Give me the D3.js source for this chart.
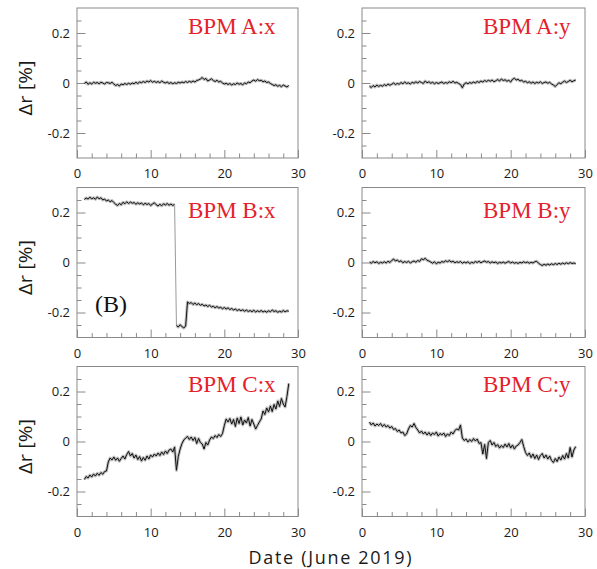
<!DOCTYPE html>
<html>
<head>
<meta charset="utf-8">
<script src="https://cdn.jsdelivr.net/npm/d3@7"></script>
<style>
  html, body { margin: 0; padding: 0; background: #fff; }
  svg { display: block; }
</style>
</head>
<body>
<svg id="chart" width="597" height="569"></svg>
<script>
// ---------------- DATA ----------------
const days = [
  1, 1.25, 1.5, 1.75, 2, 2.25, 2.5, 2.75,
  3, 3.25, 3.5, 3.75, 4, 4.25, 4.5, 4.75,
  5, 5.25, 5.5, 5.75, 6, 6.25, 6.5, 6.75,
  7, 7.25, 7.5, 7.75, 8, 8.25, 8.5, 8.75,
  9, 9.25, 9.5, 9.75, 10, 10.25, 10.5, 10.75,
  11, 11.25, 11.5, 11.75, 12, 12.25, 12.5, 12.75,
  13, 13.25, 13.5, 13.75, 14, 14.25, 14.5, 14.75,
  15, 15.25, 15.5, 15.75, 16, 16.25, 16.5, 16.75,
  17, 17.25, 17.5, 17.75, 18, 18.25, 18.5, 18.75,
  19, 19.25, 19.5, 19.75, 20, 20.25, 20.5, 20.75,
  21, 21.25, 21.5, 21.75, 22, 22.25, 22.5, 22.75,
  23, 23.25, 23.5, 23.75, 24, 24.25, 24.5, 24.75,
  25, 25.25, 25.5, 25.75, 26, 26.25, 26.5, 26.75,
  27, 27.25, 27.5, 27.75, 28, 28.25, 28.5, 28.75
];

const bpmAx = [
  -0.002, 0.004, -0.005, 0.001, -0.004, 0.003, -0.001, 0.002,
  -0.003, 0.003, 0.000, -0.004, 0.002, 0.001, -0.002, 0.003,
  -0.004, -0.010, -0.006, -0.012, -0.004, -0.007, -0.002, -0.006,
  -0.001, -0.005, 0.000, -0.003, 0.003, -0.002, 0.004, 0.001,
  0.006, 0.002, 0.008, 0.004, 0.010, 0.003, 0.007, 0.002,
  0.006, 0.001, 0.008, 0.003, 0.000, 0.004, -0.002, 0.002,
  -0.003, 0.001, -0.002, 0.003, 0.000, 0.004, 0.001, 0.006,
  0.002, 0.007, 0.003, 0.008, 0.004, 0.010, 0.012, 0.016,
  0.022, 0.014, 0.018, 0.008, 0.012, 0.017, 0.010, 0.006,
  0.011, 0.004, 0.007, 0.000, -0.004, -0.001, -0.006, -0.002,
  -0.008, -0.003, -0.006, 0.000, -0.005, -0.002, -0.007, 0.000,
  -0.003, 0.004, 0.001, 0.008, 0.012, 0.007, 0.014, 0.009,
  0.011, 0.005, 0.008, 0.002, 0.004, -0.002, -0.006, -0.010,
  -0.007, -0.013, -0.009, -0.015, -0.008, -0.012, -0.016, -0.010
];

const bpmAy = [
  -0.012, -0.018, -0.010, -0.016, -0.008, -0.014, -0.009, -0.013,
  -0.006, -0.011, -0.004, -0.009, -0.005, 0.000, -0.006, -0.002,
  -0.005, 0.002, -0.003, 0.004, -0.002, 0.001, -0.004, 0.003,
  -0.001, 0.005, 0.000, 0.006, 0.002, -0.002, 0.008, 0.001,
  0.005, -0.001, 0.003, -0.003, 0.002, -0.002, 0.001, 0.004,
  -0.002, 0.002, -0.001, 0.005, 0.001, 0.007, 0.000, 0.003,
  -0.002, -0.006, -0.019, -0.004, 0.001, -0.003, 0.002, -0.001,
  0.004, 0.000, 0.006, 0.002, 0.008, 0.004, 0.010, 0.006,
  0.011, 0.007, 0.012, 0.005, 0.009, 0.014, 0.008, 0.016,
  0.010, 0.013, 0.007, 0.011, 0.004, 0.015, 0.019, 0.012,
  0.015, 0.008, 0.011, 0.004, 0.007, 0.001, 0.005, -0.001,
  0.004, -0.002, 0.003, 0.000, 0.005, -0.002, 0.002, 0.004,
  -0.001, 0.003, -0.004, -0.008, -0.014, -0.006, 0.001, -0.003,
  0.003, 0.008, 0.002, 0.006, 0.011, 0.005, 0.009, 0.012
];

const bpmBx = [
  0.252, 0.258, 0.254, 0.261, 0.255, 0.259, 0.253, 0.262,
  0.255, 0.259, 0.250, 0.254, 0.246, 0.250, 0.243, 0.248,
  0.240, 0.233, 0.228, 0.236, 0.231, 0.241, 0.235, 0.243,
  0.236, 0.242, 0.237, 0.240, 0.233, 0.239, 0.234, 0.238,
  0.231, 0.237, 0.232, 0.236, 0.228, 0.234, 0.239, 0.231,
  0.226, 0.233, 0.227, 0.235, 0.230, 0.236, 0.229, 0.234,
  0.228, 0.233, -0.252, -0.258, -0.249, -0.256, -0.262, -0.254,
  -0.158, -0.164, -0.160, -0.168, -0.162, -0.169, -0.164, -0.171,
  -0.167, -0.174, -0.170, -0.176, -0.171, -0.178, -0.175, -0.181,
  -0.176, -0.182, -0.179, -0.185, -0.180, -0.186, -0.181, -0.188,
  -0.184, -0.190, -0.186, -0.192, -0.188, -0.193, -0.189, -0.195,
  -0.190, -0.196, -0.192, -0.197, -0.191, -0.198, -0.193, -0.197,
  -0.192, -0.198, -0.194, -0.199, -0.193, -0.197, -0.190, -0.196,
  -0.193, -0.199, -0.195, -0.198, -0.192, -0.197, -0.193, -0.195
];

const bpmBy = [
  0.002, -0.003, 0.004, -0.001, 0.003, -0.004, 0.001, -0.002,
  0.003, -0.002, 0.005, 0.000, 0.008, 0.014, 0.006, 0.010,
  0.003, 0.007, -0.001, 0.004, 0.000, 0.005, -0.002, 0.003,
  0.006, 0.001, 0.008, 0.004, 0.015, 0.011, 0.017, 0.009,
  0.006, 0.002, -0.003, 0.003, -0.005, 0.001, -0.002, 0.004,
  0.001, 0.007, 0.003, 0.008, 0.002, 0.005, -0.001, 0.003,
  0.000, 0.004, -0.003, 0.002, -0.002, 0.003, -0.004, 0.001,
  -0.002, 0.004, 0.000, 0.005, -0.001, 0.003, 0.006, 0.001,
  0.004, -0.002, 0.003, -0.001, 0.002, -0.004, 0.001, -0.002,
  0.002, -0.003, 0.001, 0.004, -0.002, 0.002, -0.003, 0.000,
  -0.004, 0.001, -0.002, 0.003, -0.001, 0.002, -0.003, 0.001,
  -0.002, 0.003, 0.005, -0.003, -0.008, -0.012, -0.007, -0.011,
  -0.006, -0.010, -0.005, -0.009, -0.004, -0.008, -0.003, -0.007,
  -0.002, -0.006, -0.001, -0.005, 0.000, -0.004, -0.002, -0.005
];

const bpmCx = [
  -0.152, -0.140, -0.146, -0.134, -0.142, -0.130, -0.138, -0.127,
  -0.135, -0.124, -0.131, -0.120, -0.118, -0.082, -0.066, -0.074,
  -0.062, -0.075, -0.066, -0.079, -0.068, -0.058, -0.070, -0.052,
  -0.040, -0.058, -0.048, -0.066, -0.054, -0.072, -0.060, -0.078,
  -0.064, -0.075, -0.058, -0.070, -0.054, -0.062, -0.050, -0.058,
  -0.046, -0.056, -0.042, -0.052, -0.038, -0.048, -0.034, -0.030,
  -0.042, -0.022, -0.115, -0.060, -0.030, -0.008, 0.006, 0.014,
  0.020, 0.008, 0.018, 0.004, 0.016, -0.008, 0.012, -0.004,
  -0.010, -0.030, -0.004, -0.014, 0.006, 0.018, 0.012, 0.024,
  0.016, 0.028, 0.020, 0.032, 0.064, 0.090, 0.078, 0.092,
  0.070, 0.088, 0.060, 0.094, 0.072, 0.098, 0.066, 0.086,
  0.074, 0.096, 0.062, 0.088, 0.070, 0.050, 0.064, 0.078,
  0.090, 0.122, 0.108, 0.134, 0.118, 0.142, 0.120, 0.148,
  0.130, 0.162, 0.140, 0.172, 0.150, 0.138, 0.180, 0.232
];

const bpmCy = [
  0.078, 0.066, 0.074, 0.062, 0.070, 0.064, 0.072, 0.060,
  0.068, 0.058, 0.064, 0.054, 0.060, 0.048, 0.052, 0.040,
  0.046, 0.034, 0.038, 0.024, 0.030, 0.050, 0.064, 0.058,
  0.072, 0.056, 0.046, 0.034, 0.042, 0.030, 0.038, 0.026,
  0.036, 0.024, 0.034, 0.028, 0.038, 0.022, 0.032, 0.026,
  0.034, 0.020, 0.030, 0.024, 0.038, 0.030, 0.044, 0.050,
  0.046, 0.066, 0.014, 0.004, 0.010, -0.002, 0.008, 0.000,
  0.012, 0.002, 0.010, -0.008, -0.004, -0.050, -0.012, -0.068,
  -0.004, 0.004, -0.014, -0.004, -0.020, -0.012, -0.026, -0.016,
  -0.024, -0.010, -0.022, -0.008, -0.026, -0.014, -0.030, -0.018,
  -0.014, -0.004, 0.008, -0.020, -0.044, -0.056, -0.046, -0.064,
  -0.050, -0.068, -0.054, -0.072, -0.056, -0.048, -0.066, -0.054,
  -0.070, -0.058, -0.076, -0.084, -0.068, -0.080, -0.062, -0.074,
  -0.056, -0.070, -0.048, -0.066, -0.024, -0.062, -0.034, -0.020
];

const panelTitles = ["BPM A:x", "BPM A:y", "BPM B:x", "BPM B:y", "BPM C:x", "BPM C:y"];
const panelSeries = [bpmAx, bpmAy, bpmBx, bpmBy, bpmCx, bpmCy];

const xMajorTicks = [0, 10, 20, 30];
const xMinorTicks = [2, 4, 6, 8, 12, 14, 16, 18, 22, 24, 26, 28];
const yMajorTicks = [-0.2, 0, 0.2];
const yMinorTicks = [-0.25, -0.15, -0.1, -0.05, 0.05, 0.1, 0.15, 0.25];

const xDomain = [0, 30];
const yDomain = [-0.3, 0.3];
const yLabel = "\u0394r [%]";
const xLabel = "Date (June 2019)";
const panelTag = "(B)";

// ---------------- LAYOUT ----------------
const svg = d3.select("#chart");
const colX = [[77, 298], [362, 585]];
const rowTop = [8, 187.5, 366.5];
const plotH = 150;
const titleX = [188, 483];
const titleBase = [33.5, 218, 392];
const frameColor = "#8a8a8a";
const sans = "'Open Sans', 'DejaVu Sans', sans-serif";
const serif = "'Liberation Serif', 'Times New Roman', serif";

panelSeries.forEach((vals, i) => {
  const col = i % 2, row = Math.floor(i / 2);
  const [x0, x1] = colX[col];
  const top = rowTop[row];
  const x = d3.scaleLinear().domain(xDomain).range([x0, x1]);
  const y = d3.scaleLinear().domain(yDomain).range([top + plotH, top]);
  const g = svg.append("g");

  // minor ticks
  g.append("g").attr("transform", `translate(0,${top + plotH})`)
    .call(d3.axisBottom(x).tickValues(xMinorTicks).tickSize(-4.5).tickFormat(""))
    .call(s => s.select(".domain").remove())
    .call(s => s.selectAll("line").attr("stroke", frameColor));
  g.append("g").attr("transform", `translate(${x0},0)`)
    .call(d3.axisLeft(y).tickValues(yMinorTicks).tickSize(-4.5).tickFormat(""))
    .call(s => s.select(".domain").remove())
    .call(s => s.selectAll("line").attr("stroke", frameColor));

  // major ticks + labels
  g.append("g").attr("transform", `translate(0,${top + plotH})`)
    .call(d3.axisBottom(x).tickValues(xMajorTicks).tickSize(-8).tickPadding(10.8).tickFormat(d => String(d)))
    .call(s => s.select(".domain").remove())
    .call(s => s.selectAll("line").attr("stroke", frameColor))
    .call(s => s.selectAll("text").attr("fill", "#1a1a1a").style("font-family", sans).style("font-size", "13px"));
  g.append("g").attr("transform", `translate(${x0},0)`)
    .call(d3.axisLeft(y).tickValues(yMajorTicks).tickSize(-8.5).tickPadding(7).tickFormat(d => String(d)))
    .call(s => s.select(".domain").remove())
    .call(s => s.selectAll("line").attr("stroke", frameColor))
    .call(s => s.selectAll("text").attr("fill", "#1a1a1a").style("font-family", sans).style("font-size", "13px"));

  // frame
  g.append("rect")
    .attr("x", x0).attr("y", top)
    .attr("width", x1 - x0).attr("height", plotH)
    .attr("fill", "none").attr("stroke", frameColor).attr("stroke-width", 1);

  const pts = days.map((d, k) => [d, vals[k]]);
  const line = d3.line().x(d => x(d[0])).y(d => y(d[1]));

  // split into runs at large jumps; jumps drawn as thin gray connectors
  const runs = [];
  const jumps = [];
  let cur = [pts[0]];
  for (let k = 1; k < pts.length; k++) {
    if (Math.abs(pts[k][1] - pts[k - 1][1]) > 0.1) {
      runs.push(cur); jumps.push([pts[k - 1], pts[k]]); cur = [];
    }
    cur.push(pts[k]);
  }
  runs.push(cur);

  jumps.forEach(j => {
    g.append("path").attr("d", line(j))
      .attr("fill", "none").attr("stroke", "#9a9a9a").attr("stroke-width", 1);
  });
  runs.forEach(r => {
    if (r.length < 2) return;
    g.append("path").attr("d", line(r))
      .attr("fill", "none").attr("stroke", "#bdbdbd").attr("stroke-width", 3)
      .attr("stroke-linejoin", "round");
  });
  runs.forEach(r => {
    if (r.length < 2) return;
    g.append("path").attr("d", line(r))
      .attr("fill", "none").attr("stroke", "#111").attr("stroke-width", 1)
      .attr("stroke-linejoin", "round");
  });

  // title
  svg.append("text")
    .attr("x", titleX[col]).attr("y", titleBase[row])
    .attr("fill", "#e3222b")
    .style("font-family", serif).style("font-size", "23px")
    .text(panelTitles[i]);

  // y label (left column only)
  if (col === 0) {
    svg.append("text")
      .attr("transform", `translate(32,${top + plotH / 2 + 5}) rotate(-90)`)
      .attr("text-anchor", "middle")
      .attr("fill", "#1a1a1a")
      .attr("textLength", 55).attr("lengthAdjust", "spacingAndGlyphs")
      .style("font-family", sans).style("font-size", "18px")
      .text(yLabel);
  }
});

// (B) tag
svg.append("text")
  .attr("x", 95).attr("y", 312)
  .attr("fill", "#111")
  .style("font-family", serif).style("font-size", "24px")
  .text(panelTag);

// x label
svg.append("text")
  .attr("x", 330).attr("y", 564)
  .attr("text-anchor", "middle")
  .attr("fill", "#1a1a1a")
  .attr("textLength", 163).attr("lengthAdjust", "spacing")
  .style("font-family", sans).style("font-size", "18px")
  .text(xLabel);
</script>
</body>
</html>
